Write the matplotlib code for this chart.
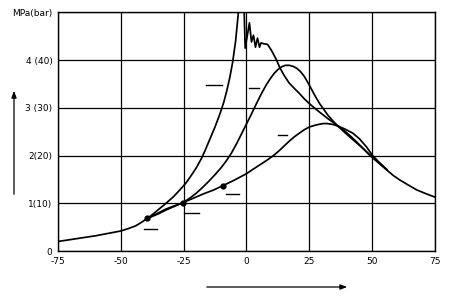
import numpy as np
import matplotlib
matplotlib.use('Agg')
import matplotlib.pyplot as plt

# common start of all three curves
x_common = [-75, -70, -65, -60, -55, -50, -47, -44, -41.5, -39.4]
y_common = [0.20, 0.24, 0.28, 0.32, 0.37, 0.42, 0.47, 0.53, 0.61, 0.685]

# curve A (steep, with oscillations)
x_a = [-37.5, -35, -32, -29, -26.5, -24, -22, -20, -18, -16.5, -14.5, -12.5, -10.5,
       -9, -7.8, -6.6, -5.5, -4.3, -3.2, -2.2, -1.0, -0.5, 1.2, 2.0, 2.8, 3.6, 4.4, 5.2,
       5.8, 7, 8.4, 10, 12, 13.2, 15, 17, 19, 21.1, 23, 25, 27, 29.1, 32.5, 36,
       39, 42, 45.5, 49, 52.5, 55.8, 58.5, 61, 64.5, 67.8, 71.5, 75]
y_a = [0.76, 0.87, 1.0, 1.14, 1.28, 1.43, 1.58, 1.74, 1.93, 2.10, 2.35, 2.60, 2.88,
       3.12, 3.36, 3.64, 3.95, 4.4, 5.0, 5.4, 5.2, 4.25, 4.78, 4.38, 4.52, 4.27, 4.46, 4.27,
       4.36, 4.34, 4.33, 4.2, 4.0, 3.85, 3.68, 3.52, 3.41, 3.30, 3.19, 3.09, 3.0, 2.91,
       2.77, 2.64, 2.52, 2.38, 2.20, 2.01, 1.85, 1.70, 1.58, 1.49, 1.38, 1.28, 1.20, 1.13]

# curve B
x_b = [-35, -32, -28.5, -25.4, -22.5, -20, -17.5, -15, -12.5, -10, -8, -6, -4, -2,
       0, 2, 4, 6, 8, 9.5, 11, 12.5, 14, 15.5, 17, 18.5, 20, 21.5, 23, 25, 27,
       29.1, 32.5, 35.9, 39, 42, 45.5, 49, 52.5, 55.8]
y_b = [0.80, 0.88, 0.95, 1.01, 1.11, 1.21, 1.33, 1.46, 1.60, 1.75, 1.89, 2.05, 2.24,
       2.45, 2.66, 2.87, 3.09, 3.30, 3.49, 3.61, 3.72, 3.80, 3.86, 3.89, 3.89, 3.87,
       3.83, 3.76, 3.66, 3.48, 3.28, 3.09, 2.84, 2.64, 2.49, 2.35, 2.19, 2.02, 1.86, 1.71]

# curve C
x_c = [-35, -32, -28.5, -25.4, -21, -17, -13, -9.4, -5, 0, 4, 8.4, 11, 13.2, 15,
       17, 19, 21.1, 23, 25.1, 27, 28.5, 30.5, 32.3, 34.5, 36.3, 39, 42.3, 45,
       47.8, 50.2, 53, 55.8]
y_c = [0.78, 0.86, 0.94, 1.01, 1.11, 1.20, 1.28, 1.37, 1.48, 1.62, 1.76, 1.91, 2.01,
       2.11, 2.20, 2.30, 2.39, 2.47, 2.54, 2.60, 2.63, 2.65, 2.67, 2.67, 2.65, 2.62,
       2.56, 2.47, 2.35, 2.18, 2.00, 1.85, 1.71]

dots_x = [-39.4, -25.4, -9.4]
dots_y = [0.685, 1.01, 1.37]

# short leader dashes (labels missing in the original)
dash_x0 = [-16, 1.2, 12.4, -8, -24.7, -40.7]
dash_x1 = [-9.6, 5.2, 16.3, -2.8, -18.7, -35.5]
dash_y = [3.48, 3.42, 2.43, 1.19, 0.80, 0.46]

xticks = [-75, -50, -25, 0, 25, 50, 75]
xtick_labels = ['-75', '-50', '-25', '0', '25', '50', '75']
yticks = [0, 1, 2, 3, 4, 5]
ytick_labels = ['0', '1(10)', '2(20)', '3 (30)', '4 (40)', 'MPa(bar)']

fig = plt.figure(figsize=(4.53, 3.01), dpi=100)
ax = fig.add_axes([0.128, 0.166, 0.832, 0.793])

lw = 1.25
ax.plot(x_common, y_common, color='black', lw=lw)
ax.plot([x_common[-1]] + x_a, [y_common[-1]] + y_a, color='black', lw=lw)
ax.plot([x_common[-1]] + x_b, [y_common[-1]] + y_b, color='black', lw=lw)
ax.plot([x_common[-1]] + x_c, [y_common[-1]] + y_c, color='black', lw=lw)
ax.plot(dots_x, dots_y, 'o', color='black', ms=3.5)

for x0, x1, y in zip(dash_x0, dash_x1, dash_y):
    ax.plot([x0, x1], [y, y], color='black', lw=1.0)

ax.set_xlim(-75, 75)
ax.set_ylim(0, 5)
ax.set_xticks(xticks)
ax.set_xticklabels(xtick_labels)
ax.set_yticks(yticks)
ax.set_yticklabels(ytick_labels)
ax.tick_params(length=0, labelsize=6.5, pad=4)
ax.grid(True, color='black', lw=0.9)
for s in ax.spines.values():
    s.set_linewidth(1.0)

# axis arrows (figure pixels, origin bottom left)
fig.add_artist(matplotlib.patches.FancyArrowPatch(
    (14, 104), (14, 213), transform=None, arrowstyle='-|>,head_length=4,head_width=1.5',
    color='black', lw=0.9))
fig.add_artist(matplotlib.patches.FancyArrowPatch(
    (204, 14), (350, 14), transform=None, arrowstyle='-|>,head_length=4,head_width=1.5',
    color='black', lw=0.9))

plt.savefig('out.png', dpi=100)
plt.close()
